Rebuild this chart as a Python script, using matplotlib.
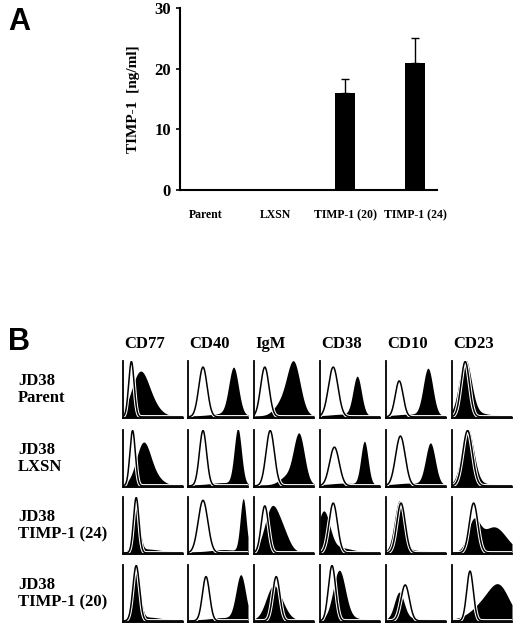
import numpy as np
import matplotlib
matplotlib.use("Agg")
import matplotlib.pyplot as plt

# ---- Panel A data ----
categories = ["Parent", "LXSN", "TIMP-1 (20)", "TIMP-1 (24)"]
timp_values = [0, 0, 16, 21]
timp_err = [0, 0, 2.3, 4.0]
y_ticks = [0, 10, 20, 30]

# ---- Panel B data ----
markers = ["CD77", "CD40", "IgM", "CD38", "CD10", "CD23"]
row_labels = ["JD38\nParent", "JD38\nLXSN", "JD38\nTIMP-1 (24)", "JD38\nTIMP-1 (20)"]
# open (control) peak: position, width, height  per row x column
open_pos = [[.14, .25, .18, .22, .22, .22],
            [.16, .25, .27, .24, .24, .26],
            [.22, .25, .18, .22, .25, .36],
            [.22, .30, .37, .20, .32, .30]]
open_wid = [[.045, .07, .07, .08, .065, .07],
            [.045, .06, .07, .08, .08, .08],
            [.045, .08, .06, .07, .07, .07],
            [.055, .06, .06, .06, .07, .055]]
open_hgt = [[1.0, .90, .90, .90, .65, 1.0],
            [1.0, 1.0, 1.0, .70, .90, 1.0],
            [1.0, .95, .85, .90, .90, .90],
            [1.0, .80, .80, 1.0, .65, .90]]
# filled (stained) main peak
fill_pos = [[.28, .76, .66, .62, .70, .22],
            [.34, .83, .75, .74, .74, .26],
            [.22, .92, .30, .06, .22, .36],
            [.22, .88, .32, .32, .22, .65]]
fill_wid = [[.14, .08, .11, .07, .08, .10],
            [.12, .06, .09, .06, .08, .10],
            [.055, .05, .12, .10, .08, .10],
            [.06, .08, .12, .10, .08, .25]]
fill_hgt = [[.75, .85, .95, .70, .85, 1.0],
            [.75, 1.0, .90, .78, .75, 1.0],
            [.80, .95, .80, .70, .90, .50],
            [1.0, .80, .60, .85, .48, .40]]
# filled secondary shoulder (position, width, height)
sh_pos = [[.48, .6, .45, .4, .4, .4],
          [.55, .6, .55, .4, .4, .4],
          [.4, .6, .5, .3, .4, .70],
          [.4, .6, .5, .4, .4, .80]]
sh_wid = [[.14, .2, .12, .2, .2, .2],
          [.12, .2, .12, .2, .2, .2],
          [.2, .2, .1, .2, .2, .20],
          [.2, .2, .1, .2, .2, .15]]
sh_hgt = [[.15, .04, .20, .03, .03, .05],
          [.10, .04, .15, .03, .03, .03],
          [.05, .04, .25, .08, .03, .45],
          [.05, .04, .10, .05, .03, .30]]

fig = plt.figure(figsize=(5.2, 6.24), dpi=100)
serif = ["Liberation Serif", "DejaVu Serif"]

# ---- Panel A ----
W, H = 520, 624
axA = fig.add_axes([180 / W, 1 - 190 / H, (437 - 180) / W, (190 - 8) / H])
xpos = np.arange(len(categories))
axA.bar(xpos, timp_values, width=0.28, color="black")
axA.errorbar(xpos[2:], timp_values[2:], yerr=[[0, 0], timp_err[2:]], fmt="none",
             ecolor="black", elinewidth=1, capsize=3)
axA.set_xlim(-0.36, 3.31)
axA.set_ylim(0, 30)
axA.set_yticks(y_ticks)
axA.set_yticklabels([str(v) for v in y_ticks], family=serif, fontweight="bold", fontsize=12)
axA.set_xticks(xpos)
axA.set_xticklabels(categories, family=serif, fontweight="bold", fontsize=8.5)
axA.tick_params(axis="x", length=0, pad=14)
axA.tick_params(axis="y", length=3, width=1.2)
axA.spines["top"].set_visible(False)
axA.spines["right"].set_visible(False)
axA.spines["left"].set_linewidth(1.5)
axA.spines["bottom"].set_linewidth(1.5)
axA.set_ylabel("TIMP-1  [ng/ml]", family=serif, fontweight="bold", fontsize=11, labelpad=10)
fig.text(8 / W, 1 - 30 / H, "A", family=["Liberation Sans"], fontweight="bold", fontsize=22)
fig.text(8 / W, 1 - 350 / H, "B", family=["Liberation Sans"], fontweight="bold", fontsize=22)

# ---- Panel B ----
col_left = [123, 188, 254, 320, 386, 452]
row_top = [361, 430, 497, 565]
cw, ch = 60, 57
x = np.linspace(0, 1, 300)
g = lambda p, w, h: h * np.exp(-0.5 * ((x - p) / w) ** 2)
for c, m in enumerate(markers):
    fig.text((col_left[c] + 1) / W, 1 - 352 / H, m, family=serif, fontweight="bold",
             fontsize=12, va="bottom")
for r in range(4):
    fig.text(18 / W, 1 - (row_top[r] + ch / 2) / H, row_labels[r], family=serif,
             fontweight="bold", fontsize=12, va="center", linespacing=1.1)
    for c in range(6):
        ax = fig.add_axes([col_left[c] / W, 1 - (row_top[r] + ch) / H, cw / W, ch / H])
        yf = g(fill_pos[r][c], fill_wid[r][c], fill_hgt[r][c]) + \
            g(sh_pos[r][c], sh_wid[r][c], sh_hgt[r][c]) + 0.04
        yo = g(open_pos[r][c], open_wid[r][c], open_hgt[r][c]) + 0.02
        ax.fill_between(x, 0, yf, color="black", lw=0)
        ax.plot(x, yo, color="white", lw=2.6)
        ax.plot(x, yo, color="black", lw=1.1)
        ax.set_xlim(0, 1)
        ax.set_ylim(0, 1.03)
        ax.set_xticks([]); ax.set_yticks([])
        ax.spines["top"].set_visible(False)
        ax.spines["right"].set_visible(False)
        ax.spines["left"].set_linewidth(1.3)
        ax.spines["bottom"].set_linewidth(1.3)
        ax.patch.set_alpha(0)

fig.savefig("out.png", dpi=100)
